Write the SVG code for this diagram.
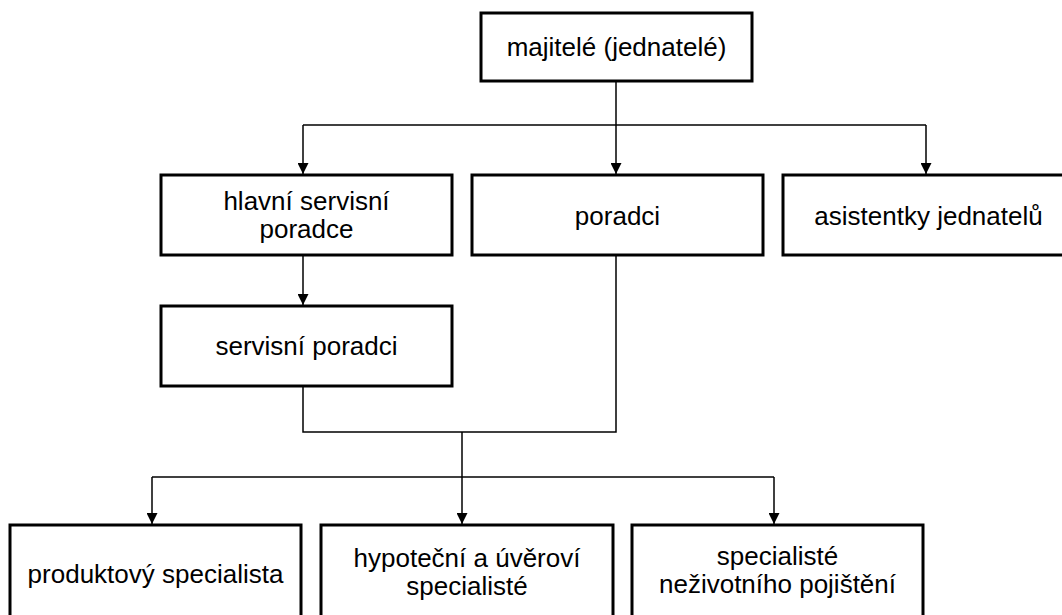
<svg xmlns="http://www.w3.org/2000/svg" width="1062" height="615" viewBox="0 0 1062 615">
<defs>
<style>
.box{fill:#fff;stroke:#000;stroke-width:3}
.t{font-family:"Liberation Sans",Arial,sans-serif;font-size:26px;fill:#000;text-anchor:middle}
.c{fill:none;stroke:#000;stroke-width:1.5}
</style>
<marker id="ah" viewBox="0 0 10 10" refX="10" refY="5" markerWidth="11" markerHeight="11" markerUnits="userSpaceOnUse" orient="auto">
<path d="M0,0 L10,5 L0,10 Z" fill="#000"/>
</marker>
</defs>
<rect width="1062" height="615" fill="#fff"/>
<g id="connectors">
<path class="c" d="M616,81 V125"/>
<path class="c" d="M303,125 H926"/>
<path class="c" d="M303,125 V174" marker-end="url(#ah)"/>
<path class="c" d="M616,125 V174" marker-end="url(#ah)"/>
<path class="c" d="M926,125 V174" marker-end="url(#ah)"/>
<path class="c" d="M303,255 V305" marker-end="url(#ah)"/>
<path class="c" d="M303,386 V432 H616 V255"/>
<path class="c" d="M462,432 V524" marker-end="url(#ah)"/>
<path class="c" d="M152,477 H774"/>
<path class="c" d="M152,477 V524" marker-end="url(#ah)"/>
<path class="c" d="M774,477 V524" marker-end="url(#ah)"/>
</g>
<g id="majitele">
<rect class="box" x="481" y="13" width="271" height="68"/>
<text class="t" x="616.5" y="56">majitelé (jednatelé)</text>
</g>
<g id="hlavni">
<rect class="box" x="161" y="175" width="291" height="80"/>
<text class="t" x="306.5" y="210">hlavní servisní</text>
<text class="t" x="306.5" y="238">poradce</text>
</g>
<g id="poradci">
<rect class="box" x="472" y="175" width="291" height="80"/>
<text class="t" x="617.5" y="225">poradci</text>
</g>
<g id="asistentky">
<rect class="box" x="783" y="175" width="291" height="80"/>
<text class="t" x="928.5" y="225">asistentky jednatelů</text>
</g>
<g id="servisni">
<rect class="box" x="161" y="306" width="291" height="80"/>
<text class="t" x="306.5" y="355">servisní poradci</text>
</g>
<g id="produktovy">
<rect class="box" x="10" y="525" width="291" height="110"/>
<text class="t" x="155.5" y="583">produktový specialista</text>
</g>
<g id="hypotecni">
<rect class="box" x="321" y="525" width="292" height="110"/>
<text class="t" x="467" y="567">hypoteční a úvěroví</text>
<text class="t" x="467" y="595">specialisté</text>
</g>
<g id="nezivotni">
<rect class="box" x="632" y="525" width="291" height="110"/>
<text class="t" x="777.5" y="565">specialisté</text>
<text class="t" x="777.5" y="593">neživotního pojištění</text>
</g>
</svg>
